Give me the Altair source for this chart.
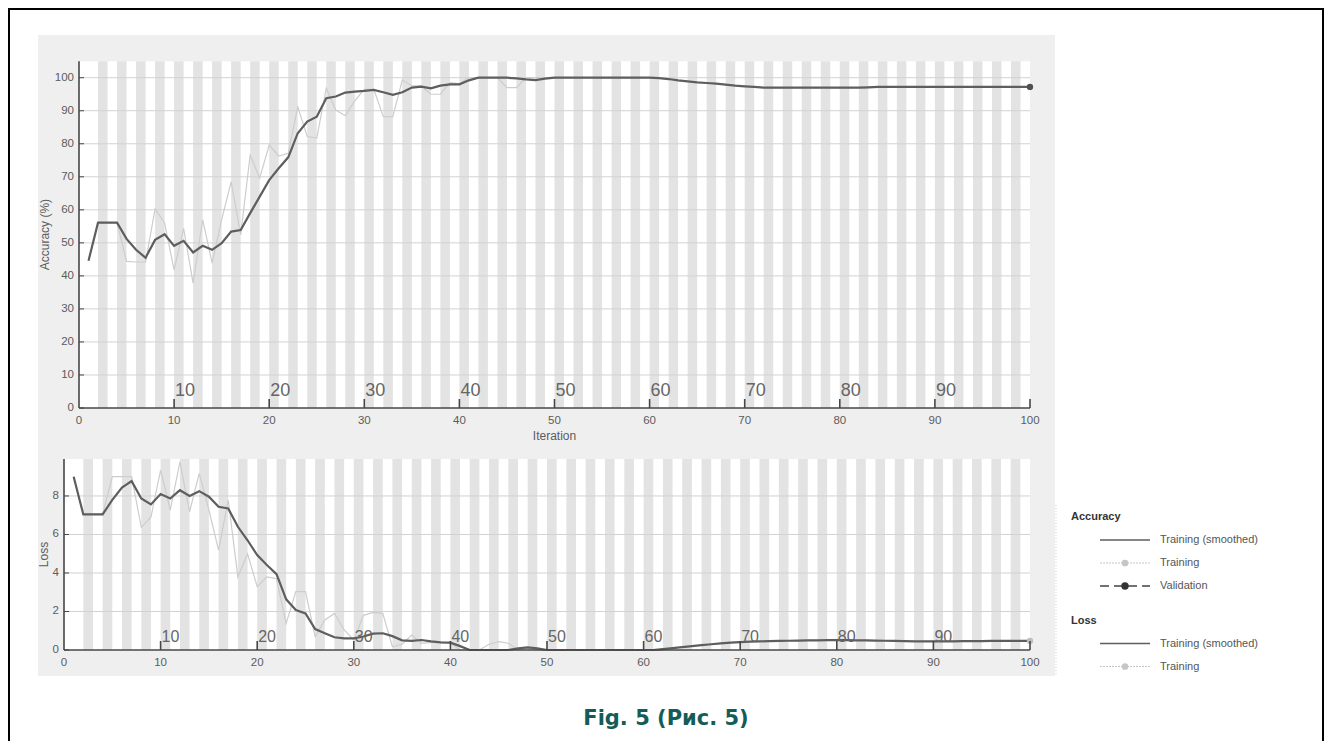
import altair as alt
import pandas as pd

# ---------------- data ----------------
iterations = list(range(1, 101))

acc_smoothed = [
    44.6, 56.1, 56.1, 56.1, 51.2, 47.9, 45.5, 50.9, 52.6, 49.1,
    50.6, 47.1, 49.1, 47.9, 49.9, 53.4, 53.9, 59.0, 64.0, 69.0,
    72.6, 75.9, 83.2, 86.7, 88.2, 93.8, 94.3, 95.5, 95.8, 96.0,
    96.3, 95.6, 94.8, 95.6, 97.0, 97.3, 96.8, 97.6, 98.0, 98.0,
    99.2, 100, 100, 100, 100, 99.8, 99.5, 99.3, 99.7, 100,
    100, 100, 100, 100, 100, 100, 100, 100, 100, 100,
    99.9, 99.6, 99.2, 98.9, 98.6, 98.4, 98.2, 97.9, 97.6, 97.4,
    97.2, 97.0, 97.0, 97.0, 97.0, 97.0, 97.0, 97.0, 97.0, 97.0,
    97.0, 97.0, 97.1, 97.2, 97.2, 97.2, 97.2, 97.2, 97.2, 97.2,
    97.2, 97.2, 97.2, 97.2, 97.2, 97.2, 97.2, 97.2, 97.2, 97.2,
]
acc_training = [
    44.6, 56.1, 56.1, 56.1, 44.4, 44.2, 44.2, 60.3, 56.0, 41.8,
    54.4, 37.8, 57.0, 43.9, 57.0, 68.5, 52.4, 76.6, 69.6, 79.6,
    76.3, 77.1, 91.2, 82.2, 81.7, 96.8, 90.2, 88.5, 93.0, 96.5,
    96.5, 88.2, 88.2, 99.3, 97.5, 97.5, 95.0, 95.0, 98.5, 98.2,
    100, 100, 100, 100, 97.0, 97.0, 100, 100, 100, 100,
    100, 100, 100, 100, 100, 100, 100, 100, 100, 100,
    99.9, 99.6, 99.2, 98.9, 98.6, 98.4, 98.2, 97.9, 97.6, 97.4,
    97.2, 97.0, 97.0, 97.0, 97.0, 97.0, 97.0, 97.0, 97.0, 97.0,
    97.0, 97.0, 97.1, 97.2, 97.2, 97.2, 97.2, 97.2, 97.2, 97.2,
    97.2, 97.2, 97.2, 97.2, 97.2, 97.2, 97.2, 97.2, 97.2, 97.2,
]
acc_validation_iteration = [100]
acc_validation = [97.2]

loss_smoothed = [
    9.0, 7.04, 7.04, 7.04, 7.8, 8.44, 8.77, 7.87, 7.56, 8.1,
    7.87, 8.3, 8.0, 8.25, 7.96, 7.44, 7.35, 6.4, 5.7, 4.93,
    4.41, 3.94, 2.63, 2.08, 1.9, 1.09, 0.87, 0.66, 0.6, 0.6,
    0.7, 0.85, 0.87, 0.72, 0.5, 0.47, 0.52, 0.45, 0.4, 0.38,
    0.2, 0.0, 0.0, 0.0, 0.0, 0.0, 0.08, 0.14, 0.08, 0.0,
    0.0, 0.0, 0.0, 0.0, 0.0, 0.0, 0.0, 0.0, 0.0, 0.0,
    0.0, 0.05, 0.1, 0.15, 0.2, 0.25, 0.3, 0.34, 0.38, 0.41,
    0.43, 0.45, 0.46, 0.47, 0.48, 0.49, 0.5, 0.5, 0.51, 0.51,
    0.51, 0.5, 0.5, 0.49, 0.48, 0.47, 0.46, 0.45, 0.45, 0.45,
    0.45, 0.45, 0.46, 0.46, 0.46, 0.47, 0.47, 0.47, 0.47, 0.47,
]
loss_training = [
    9.0, 7.04, 7.04, 7.04, 9.0, 9.0, 9.0, 6.37, 6.9, 9.34,
    7.27, 9.77, 7.18, 9.17, 7.27, 5.19, 7.79, 3.8, 5.0, 3.29,
    3.8, 3.7, 1.38, 3.03, 3.03, 0.69, 1.56, 1.9, 1.04, 0.52,
    1.8, 1.95, 1.9, 0.17, 0.3, 0.78, 0.35, 0.4, 0.38, 0.35,
    0.0, 0.0, 0.0, 0.3, 0.43, 0.35, 0.0, 0.1, 0.0, 0.0,
    0.0, 0.0, 0.0, 0.0, 0.0, 0.0, 0.0, 0.0, 0.0, 0.0,
    0.0, 0.05, 0.1, 0.15, 0.2, 0.25, 0.3, 0.34, 0.38, 0.41,
    0.43, 0.45, 0.46, 0.47, 0.48, 0.49, 0.5, 0.5, 0.51, 0.51,
    0.51, 0.5, 0.5, 0.49, 0.48, 0.47, 0.46, 0.45, 0.45, 0.45,
    0.45, 0.45, 0.46, 0.46, 0.46, 0.47, 0.47, 0.47, 0.47, 0.47,
]
loss_final_iteration = [100]
loss_final = [0.47]

x_ticks = [0, 10, 20, 30, 40, 50, 60, 70, 80, 90, 100]
epoch_marks = [10, 20, 30, 40, 50, 60, 70, 80, 90, 100]
epoch_labels = [10, 20, 30, 40, 50, 60, 70, 80, 90]
acc_ticks = [0, 10, 20, 30, 40, 50, 60, 70, 80, 90, 100]
loss_ticks = [0, 2, 4, 6, 8]
stripe_starts = list(range(2, 100, 2))

legend_groups = ["Accuracy", "Loss"]
legend_acc_items = ["Training (smoothed)", "Training", "Validation"]
legend_loss_items = ["Training (smoothed)", "Training"]
caption = "Fig. 5 (Рис. 5)"

# ---------------- styling / layout ----------------
W, H = 1316, 733
FONT = "Liberation Sans"
SMOOTH = "#5e5e5e"
RAW = "#cdcdcd"
STRIPE = "#e3e3e3"
GRID = "#d2d2d2"
AXIS = "#474747"
LABEL = "#5c5c5c"
PANEL_BG = "#efefef"

PANELS = {
    "acc": dict(xr=[71, 1022], yd=[0, 105], yr=[400, 53.2], ticks=acc_ticks,
                epoch_dy=-17, epoch_size=18, title="Accuracy (%)", title_dy=-34,
                xtitle=True),
    "loss": dict(xr=[56, 1022], yd=[0, 9.92], yr=[642, 451], ticks=loss_ticks,
                 epoch_dy=-13, epoch_size=16, title="Loss", title_dy=-20,
                 xtitle=False),
}


def panel_layers(key, smoothed, training, fin_it, fin_val, fin_color):
    c = PANELS[key]
    ymax = c["yd"][1]
    xsc = alt.Scale(domain=[0, 100], range=c["xr"], nice=False, zero=False)
    ysc = alt.Scale(domain=c["yd"], range=c["yr"], nice=False, zero=False)
    pxx = (c["xr"][1] - c["xr"][0]) / 100.0
    pxy = (c["yr"][0] - c["yr"][1]) / ymax

    def ex(f):
        return alt.X(f, type="quantitative", scale=xsc, axis=None)

    def ey(f):
        return alt.Y(f, type="quantitative", scale=ysc, axis=None)

    L = []
    box = pd.DataFrame({"x0": [0], "x1": [100], "y0": [0], "y1": [ymax]})
    L.append(alt.Chart(box).mark_rect(color="white").encode(
        x=ex("x0"), x2="x1", y=ey("y0"), y2="y1"))
    st = pd.DataFrame({"s": stripe_starts, "e": [s + 1 for s in stripe_starts]})
    st["y0"] = 0
    st["y1"] = ymax
    L.append(alt.Chart(st).mark_rect(color=STRIPE).encode(
        x=ex("s"), x2="e", y=ey("y0"), y2="y1"))
    gr = pd.DataFrame({"v": c["ticks"][1:]})
    gr["x0"] = 0
    gr["x1"] = 100
    L.append(alt.Chart(gr).mark_rule(color=GRID, strokeWidth=1).encode(
        x=ex("x0"), x2="x1", y=ey("v")))
    ln = pd.DataFrame({"it": iterations, "s": smoothed, "t": training})
    L.append(alt.Chart(ln).mark_line(color=RAW, strokeWidth=1.2).encode(
        x=ex("it"), y=ey("t")))
    L.append(alt.Chart(ln).mark_line(color=SMOOTH, strokeWidth=2.2).encode(
        x=ex("it"), y=ey("s")))
    fin = pd.DataFrame({"it": fin_it, "v": fin_val})
    L.append(alt.Chart(fin).mark_point(filled=True, size=40, color=fin_color, opacity=1).encode(
        x=ex("it"), y=ey("v")))
    # axis lines
    L.append(alt.Chart(box).mark_rule(color=AXIS, strokeWidth=1.6).encode(
        x=ex("x0"), x2="x1", y=ey("y0")))
    L.append(alt.Chart(box).mark_rule(color=AXIS, strokeWidth=1.6).encode(
        x=ex("x0"), y=ey("y0"), y2="y1"))
    # y ticks + labels
    yt = pd.DataFrame({"v": c["ticks"]})
    yt["x0"] = 0
    yt["x1"] = 5 / pxx
    L.append(alt.Chart(yt).mark_rule(color=AXIS, strokeWidth=1).encode(
        x=ex("x0"), x2="x1", y=ey("v")))
    L.append(alt.Chart(yt).mark_text(align="right", baseline="middle", dx=-5,
                                      font=FONT, fontSize=11.5, color=LABEL).encode(
        x=ex("x0"), y=ey("v"), text=alt.Text("v:Q")))
    # x ticks (epoch marks)
    xt = pd.DataFrame({"m": epoch_marks})
    xt["y0"] = 0
    xt["y1"] = 9 / pxy
    L.append(alt.Chart(xt).mark_rule(color=AXIS, strokeWidth=1.6).encode(
        x=ex("m"), y=ey("y0"), y2="y1"))
    xl = pd.DataFrame({"m": x_ticks})
    xl["y0"] = 0
    L.append(alt.Chart(xl).mark_text(align="center", baseline="middle", dy=13,
                                      font=FONT, fontSize=11.5, color=LABEL).encode(
        x=ex("m"), y=ey("y0"), text=alt.Text("m:Q")))
    el = pd.DataFrame({"m": epoch_labels})
    el["y0"] = 0
    L.append(alt.Chart(el).mark_text(align="left", baseline="middle", dx=1, dy=c["epoch_dy"],
                                      font=FONT, fontSize=c["epoch_size"], color="#666666").encode(
        x=ex("m"), y=ey("y0"), text=alt.Text("m:Q")))
    # axis titles
    yt_df = pd.DataFrame({"x": [0], "y": [ymax / 2], "t": [c["title"]]})
    L.append(alt.Chart(yt_df).mark_text(align="center", baseline="middle", angle=270,
                                         dy=c["title_dy"], font=FONT, fontSize=12, color=LABEL).encode(
        x=ex("x"), y=ey("y"), text="t:N"))
    if c["xtitle"]:
        xt_df = pd.DataFrame({"x": [50], "y": [0], "t": ["Iteration"]})
        L.append(alt.Chart(xt_df).mark_text(align="center", baseline="middle", dy=28,
                                             font=FONT, fontSize=12, color=LABEL).encode(
            x=ex("x"), y=ey("y"), text="t:N"))
    return L


one = pd.DataFrame({"a": [0]})
layers = []
# outer frame (top, left, right edges)
layers.append(alt.Chart(one).mark_rule(color="black", strokeWidth=2).encode(
    x=alt.value(0), x2=alt.value(W), y=alt.value(1)))
layers.append(alt.Chart(one).mark_rule(color="black", strokeWidth=2).encode(
    x=alt.value(1), y=alt.value(0), y2=alt.value(H)))
layers.append(alt.Chart(one).mark_rule(color="black", strokeWidth=2).encode(
    x=alt.value(W - 1), y=alt.value(0), y2=alt.value(H)))
# grey figure panel
layers.append(alt.Chart(one).mark_rect(color=PANEL_BG).encode(
    x=alt.value(30), x2=alt.value(1047), y=alt.value(27), y2=alt.value(668)))

layers += panel_layers("acc", acc_smoothed, acc_training,
                       acc_validation_iteration, acc_validation, "#505050")
layers += panel_layers("loss", loss_smoothed, loss_training,
                       loss_final_iteration, loss_final, "#bdbdbd")

# legend
lsc = alt.Scale(domain=[0, 6.5], range=[509, 658.5], nice=False, zero=False)


def ly(f):
    return alt.Y(f, type="quantitative", scale=lsc, axis=None)


layers.append(alt.Chart(one).mark_rule(color="#d0d0d0", strokeDash=[1, 2]).encode(
    x=alt.value(1048), y=alt.value(497), y2=alt.value(668)))
g = pd.DataFrame({"t": legend_groups, "r": [0, 4.5]})
layers.append(alt.Chart(g).mark_text(align="left", baseline="middle", font=FONT,
                                      fontSize=11, fontWeight="bold", color="#333333").encode(
    x=alt.value(1063), y=ly("r"), text="t:N"))
items = pd.DataFrame({"t": legend_acc_items + legend_loss_items, "r": [1, 2, 3, 5.5, 6.5]})
layers.append(alt.Chart(items).mark_text(align="left", baseline="middle", font=FONT,
                                          fontSize=11, color="#555555").encode(
    x=alt.value(1152), y=ly("r"), text="t:N"))
sm = pd.DataFrame({"r": [1, 5.5]})
layers.append(alt.Chart(sm).mark_rule(color=SMOOTH, strokeWidth=1.6).encode(
    x=alt.value(1092), x2=alt.value(1142), y=ly("r")))
tr = pd.DataFrame({"r": [2, 6.5]})
layers.append(alt.Chart(tr).mark_rule(color="#c6c6c6", strokeWidth=1.2, strokeDash=[2, 1]).encode(
    x=alt.value(1092), x2=alt.value(1142), y=ly("r")))
layers.append(alt.Chart(tr).mark_point(filled=True, size=45, color="#c6c6c6", opacity=1).encode(
    x=alt.value(1117), y=ly("r")))
va = pd.DataFrame({"r": [3]})
layers.append(alt.Chart(va).mark_rule(color="#444444", strokeWidth=1.6, strokeDash=[9, 5]).encode(
    x=alt.value(1092), x2=alt.value(1142), y=ly("r")))
layers.append(alt.Chart(va).mark_point(filled=True, size=55, color="#333333", opacity=1).encode(
    x=alt.value(1117), y=ly("r")))

# caption
cap = pd.DataFrame({"t": [caption]})
layers.append(alt.Chart(cap).mark_text(align="center", baseline="middle", font="DejaVu Sans",
                                        fontSize=21, fontWeight="bold", color="#145c58").encode(
    x=alt.value(658), y=alt.value(711), text="t:N"))

chart = (
    alt.layer(*layers)
    .resolve_scale(x="independent", y="independent")
    .properties(width=W, height=H, padding=0,
                autosize=alt.AutoSizeParams(type="none"))
    .configure_view(stroke=None)
)

chart.save("out.html", embed_options={"renderer": "svg", "actions": False})
